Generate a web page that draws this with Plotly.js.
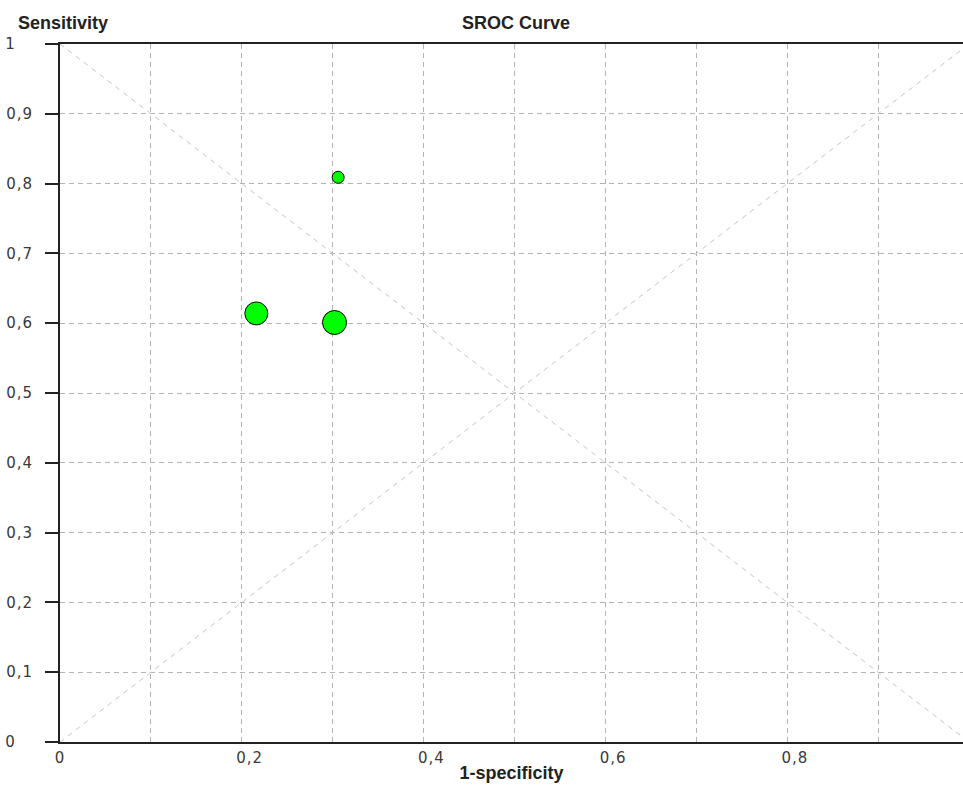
<!DOCTYPE html>
<html>
<head>
<meta charset="utf-8">
<script src="https://cdn.plot.ly/plotly-3.0.1.min.js"></script>
<style>
html,body{margin:0;padding:0;background:#fff;}
#chart{width:963px;height:785px;}
#chart .xtick text, #chart .ytick text{letter-spacing:1px;}
</style>
</head>
<body>
<div id="chart"></div>
<script>
// Study points (1-specificity, sensitivity) and marker sizes
var fpr = [0.306, 0.216, 0.302];
var sensitivity = [0.809, 0.614, 0.601];
var markerSizes = [12, 23, 24];

// Reference diagonals
var diagX = [0, 1];
var diagUp = [0, 1];
var diagDown = [1, 0];

var NB = '\u00a0';
var tickVals = [0, 0.1, 0.2, 0.3, 0.4, 0.5, 0.6, 0.7, 0.8, 0.9, 1];
var yTickText = ['0' + NB + NB + NB, '0,1', '0,2', '0,3', '0,4', '0,5', '0,6', '0,7', '0,8', '0,9', '1' + NB + NB + NB];
var xTickVals = [0, 0.2, 0.4, 0.6, 0.8, 1];
var xPad = NB + NB + '\u2009';
var xTickText = ['0', xPad + '0,2', xPad + '0,4', xPad + '0,6', xPad + '0,8', xPad + '1'];

var diagStyle = {color: '#c4c4c4', width: 1, dash: '5px,5px'};

var traces = [
  {x: [0], y: [0], xaxis: 'x2', mode: 'markers', marker: {opacity: 0}, hoverinfo: 'skip', showlegend: false},
  {x: diagX, y: diagUp, mode: 'lines', line: diagStyle, hoverinfo: 'skip', showlegend: false},
  {x: diagX, y: diagDown, mode: 'lines', line: diagStyle, hoverinfo: 'skip', showlegend: false},
  {x: fpr, y: sensitivity, mode: 'markers', showlegend: false,
   marker: {size: markerSizes, color: '#00ff00', opacity: 1, line: {color: '#000000', width: 1}}}
];

var tickFont = {family: 'DejaVu Sans, sans-serif', size: 15, color: '#3a3a3a'};
var titleFont = {family: 'Liberation Sans, Arial, sans-serif', size: 18, weight: 'bold', color: '#222222'};

var layout = {
  width: 963, height: 785,
  margin: {l: 60, r: 0, t: 44, b: 43},
  paper_bgcolor: '#ffffff', plot_bgcolor: '#ffffff',
  showlegend: false,
  title: {text: 'SROC Curve', x: 516/963, xanchor: 'center', xref: 'container',
          y: 1 - 22.5/785, yanchor: 'middle', yref: 'container', font: titleFont},
  xaxis: {
    range: [0, 903/909], tickmode: 'array', tickvals: xTickVals, ticktext: xTickText,
    showgrid: false,
    zeroline: false, showline: true, linecolor: '#222222', linewidth: 2, mirror: true,
    ticks: '', tickfont: tickFont, fixedrange: true, ticklabelstandoff: 1,
    title: {text: '1-specificity', standoff: 0, font: titleFont}
  },
  xaxis2: {
    overlaying: 'x', matches: 'x', range: [0, 903/909], tickvals: tickVals,
    showticklabels: false, showgrid: true, gridcolor: '#b4b4b4', griddash: '5px,4px', gridwidth: 1,
    zeroline: false, showline: false, ticks: '', fixedrange: true
  },
  yaxis: {
    range: [0, 1], tickmode: 'array', tickvals: tickVals, ticktext: yTickText,
    showgrid: true, gridcolor: '#b4b4b4', griddash: '5px,4px', gridwidth: 1,
    zeroline: false, showline: true, linecolor: '#222222', linewidth: 2,
    ticks: 'outside', ticklen: 13, tickcolor: '#222222', tickwidth: 2,
    tickfont: tickFont, fixedrange: true, ticklabelstandoff: 9
  },
  annotations: [
    {text: 'Sensitivity', xref: 'paper', yref: 'paper', x: -44/903, y: 1 + 21/698,
     xanchor: 'left', yanchor: 'middle', showarrow: false, font: titleFont}
  ]
};

Plotly.newPlot('chart', traces, layout, {staticPlot: true, displayModeBar: false});
</script>
</body>
</html>
